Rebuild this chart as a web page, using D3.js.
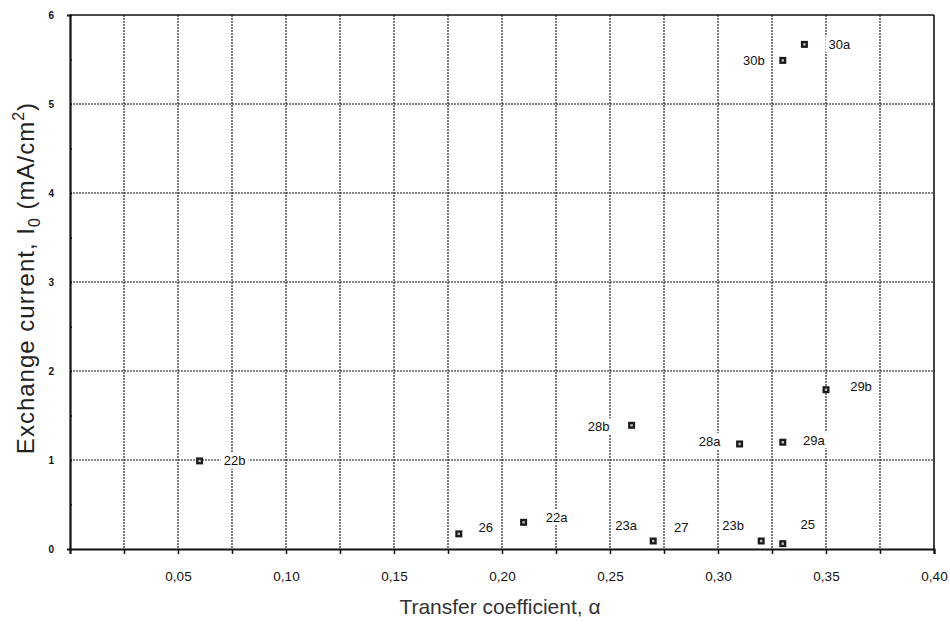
<!DOCTYPE html>
<html lang="en">
  <head>
    <meta charset="UTF-8" />
    <title>transfer coefficient</title>
    <style>
      body { margin: 0; background: #fff; }
    </style>
  </head>
  <body>
    <svg id="chart" width="950" height="624"></svg>
    <script src="https://cdn.jsdelivr.net/npm/d3@7"></script>
    <script>
      // data
      var names = ['22b', '26', '22a', '23a', '27', '28b', '28a', '29a', '29b', '23b', '25', '30b', '30a'];
      var alpha = [0.06, 0.18, 0.21, 0.27, 0.27, 0.26, 0.31, 0.33, 0.35, 0.32, 0.33, 0.33, 0.34];
      var current = [0.99, 0.17, 0.30, 0.09, 0.10, 1.39, 1.18, 1.20, 1.79, 0.09, 0.06, 5.49, 5.67];
      var xTicks = [0.05, 0.10, 0.15, 0.20, 0.25, 0.30, 0.35, 0.40];
      var yTicks = [0, 1, 2, 3, 4, 5, 6];

      // label placement (px from the point)
      var labelOffset = {
        '22b': [35, 0], '26': [27, -6], '22a': [33, -5], '23a': [-27, -16], '27': [28, -13],
        '28b': [-33, 1], '28a': [-30, -3], '29a': [31, -2], '29b': [35, -3],
        '23b': [-28, -16], '25': [25, -19], '30b': [-29, 0], '30a': [35, 0]
      };

      var margin = { left: 70, right: 16, top: 15, bottom: 75 };
      var width = 950, height = 624;

      var x = d3.scaleLinear().domain([0, 0.40]).range([margin.left, width - margin.right]);
      var y = d3.scaleLinear().domain([0, 6]).range([height - margin.bottom, margin.top]);

      var svg = d3.select('#chart');
      var fmt = d => d3.format('.2f')(d).replace('.', ',');

      // grid
      var grid = svg.append('g')
        .attr('stroke', '#111')
        .attr('stroke-width', 1.1)
        .attr('stroke-dasharray', '2,1');

      grid.selectAll('line.v')
        .data(d3.range(1, 16).map(i => i * 0.025))
        .join('line')
        .attr('x1', d => x(d)).attr('x2', d => x(d))
        .attr('y1', y(6)).attr('y2', y(0));

      grid.selectAll('line.h')
        .data(yTicks.slice(1, -1))
        .join('line')
        .attr('class', 'h')
        .attr('x1', x(0)).attr('x2', x(0.4))
        .attr('y1', d => y(d)).attr('y2', d => y(d));

      // frame
      svg.append('line').attr('x1', x(0)).attr('x2', x(0.4)).attr('y1', y(6)).attr('y2', y(6))
        .attr('stroke', '#111').attr('stroke-width', 1.6);
      svg.append('line').attr('x1', x(0.4)).attr('x2', x(0.4)).attr('y1', y(6)).attr('y2', y(0))
        .attr('stroke', '#111').attr('stroke-width', 1.6);

      // axes
      var xAxis = svg.append('g')
        .attr('transform', `translate(0,${y(0)})`)
        .call(d3.axisBottom(x).tickValues(d3.range(1, 17).map(i => i * 0.025)).tickSize(5)
          .tickFormat(d => (xTicks.some(t => Math.abs(t - d) < 1e-6) ? fmt(d) : '')));
      xAxis.select('.domain').attr('stroke', '#111').attr('stroke-width', 2.2);
      xAxis.selectAll('.tick line').attr('stroke', '#111').attr('stroke-width', 1.5);
      xAxis.selectAll('text')
        .attr('y', 22)
        .style('font', '13.5px Arial, "Liberation Sans", sans-serif')
        .attr('fill', '#111');

      var yAxis = svg.append('g')
        .attr('transform', `translate(${x(0)},0)`)
        .call(d3.axisLeft(y).tickValues(d3.range(0, 13).map(i => i * 0.5)).tickSize(3)
          .tickFormat(d => (d % 1 === 0 ? d : '')));
      yAxis.select('.domain').attr('stroke', '#111').attr('stroke-width', 2.2);
      yAxis.selectAll('.tick line').attr('stroke', '#111').attr('stroke-width', 1.5)
        .attr('x2', 2);
      yAxis.selectAll('text')
        .attr('x', -16)
        .style('font', 'bold 10px Arial, "Liberation Sans", sans-serif')
        .attr('fill', '#111');

      // points
      var points = names.map((n, i) => ({ name: n, a: alpha[i], c: current[i] }));

      var labels = svg.append('g')
        .style('font', '13px Arial, "Liberation Sans", sans-serif')
        .selectAll('g')
        .data(points)
        .join('g')
        .attr('transform', d => `translate(${x(d.a) + labelOffset[d.name][0]},${y(d.c) + labelOffset[d.name][1]})`);

      labels.append('rect')
        .attr('x', -14).attr('y', -8).attr('width', 28).attr('height', 16)
        .attr('fill', '#fff');

      labels.append('text')
        .attr('text-anchor', 'middle')
        .attr('dy', '0.35em')
        .attr('fill', '#111')
        .text(d => d.name);

      var marks = svg.append('g')
        .selectAll('g')
        .data(points.filter(d => d.name !== '27'))
        .join('g')
        .attr('transform', d => `translate(${x(d.a)},${y(d.c)})`);

      marks.append('rect')
        .attr('x', -3.5).attr('y', -3.5).attr('width', 7).attr('height', 7)
        .attr('fill', '#1a1a1a');
      marks.append('rect')
        .attr('x', -1.2).attr('y', -1.2).attr('width', 2.4).attr('height', 2.4)
        .attr('fill', '#bbb');

      // axis titles
      var yTitle = svg.append('text')
        .attr('transform', 'translate(34,278) rotate(-90)')
        .attr('text-anchor', 'middle')
        .attr('fill', '#222')
        .style('letter-spacing', '1px')
        .style('font', '24px Arial, "Liberation Sans", sans-serif');
      yTitle.append('tspan').text('Exchange current, I');
      yTitle.append('tspan').attr('dy', 6).style('font-size', '16px').text('0');
      yTitle.append('tspan').attr('dy', -6).text(' (mA/cm');
      yTitle.append('tspan').attr('dy', -10).style('font-size', '16px').text('2');
      yTitle.append('tspan').attr('dy', 10).text(')');

      svg.append('text')
        .attr('x', 500)
        .attr('y', 614)
        .attr('text-anchor', 'middle')
        .attr('fill', '#333')
        .style('font', '21px Arial, "Liberation Sans", sans-serif')
        .text('Transfer coefficient, α');
    </script>
  </body>
</html>
